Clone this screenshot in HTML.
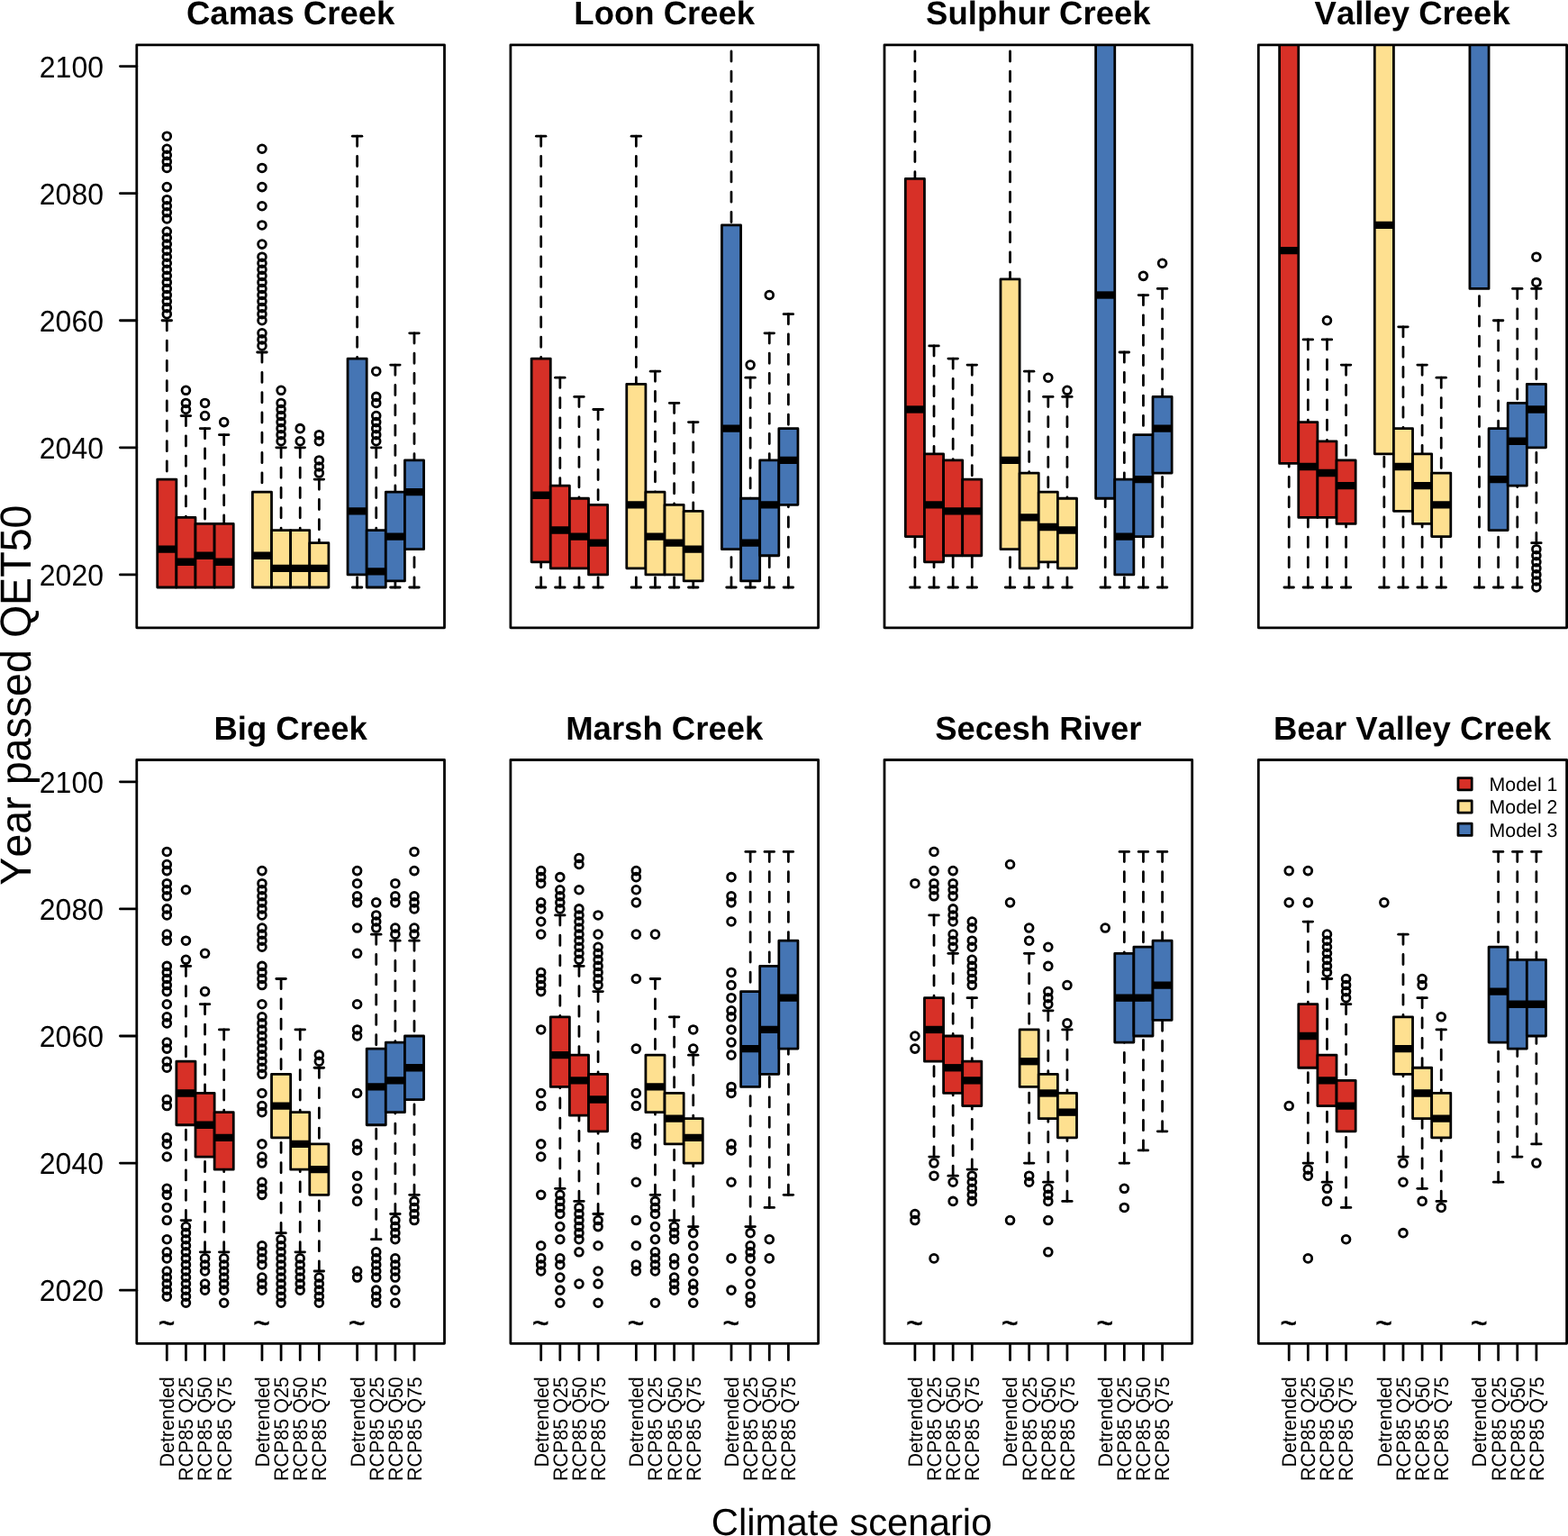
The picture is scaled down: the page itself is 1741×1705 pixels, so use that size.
<!DOCTYPE html>
<html lang="en"><head><meta charset="utf-8"><title>Year passed QET50 by climate scenario</title>
<style>html,body{margin:0;padding:0;background:#fff;overflow:hidden}svg{display:block}text{font-family:"Liberation Sans", Arial, Helvetica, sans-serif;fill:#000;font-kerning:none;font-feature-settings:"kern" 0,"liga" 0;text-rendering:geometricPrecision}.l{stroke:#000;stroke-width:2.78;stroke-linecap:round;fill:none}.w{stroke:#000;stroke-width:2.78;stroke-linecap:round;fill:none;stroke-dasharray:11.15 11.15}.m{stroke:#000;stroke-width:8.34;stroke-linecap:butt;fill:none}.b{stroke:#000;stroke-width:2.78;stroke-linejoin:round}.o{stroke:#000;stroke-width:2.78;fill:none}.t{font-size:36.5px;font-weight:bold;text-anchor:middle}.y{font-size:32px;text-anchor:end}.x{font-size:21.5px;text-anchor:end}.g{font-size:21.33px}.s{font-size:32.5px;text-anchor:middle;stroke:#000;stroke-width:0.5px}</style></head><body>
<svg width="1741" height="1705" viewBox="0 0 1741 1705" role="img" aria-label="Boxplots of year passed QET50 by climate scenario for eight creeks">
<rect width="1741" height="1705" fill="#fff"/>
<defs>
<clipPath id="c0"><rect x="151.8" y="49.8" width="341.7" height="647"/></clipPath>
<clipPath id="c1"><rect x="566.9" y="49.8" width="341.7" height="647"/></clipPath>
<clipPath id="c2"><rect x="982" y="49.8" width="341.7" height="647"/></clipPath>
<clipPath id="c3"><rect x="1397.3" y="49.8" width="342.3" height="647"/></clipPath>
<clipPath id="c4"><rect x="151.8" y="843.5" width="341.7" height="647.8"/></clipPath>
<clipPath id="c5"><rect x="566.9" y="843.5" width="341.7" height="647.8"/></clipPath>
<clipPath id="c6"><rect x="982" y="843.5" width="341.7" height="647.8"/></clipPath>
<clipPath id="c7"><rect x="1397.3" y="843.5" width="342.3" height="647.8"/></clipPath>
</defs>
<g>
<text class="t" x="322.65" y="27">Camas Creek</text>
<g clip-path="url(#c0)">
<path class="w" d="M185.3 355.74V532.09"/>
<path class="l" d="M180.02 355.74H190.58"/>
<rect class="b" fill="#D73027" x="174.74" y="532.09" width="21.13" height="119.92"/>
<path class="m" d="M174.74 609.68H195.87"/>
<circle class="o" cx="185.3" cy="348.69" r="4.4"/>
<circle class="o" cx="185.3" cy="341.63" r="4.4"/>
<circle class="o" cx="185.3" cy="334.58" r="4.4"/>
<circle class="o" cx="185.3" cy="327.52" r="4.4"/>
<circle class="o" cx="185.3" cy="320.47" r="4.4"/>
<circle class="o" cx="185.3" cy="313.42" r="4.4"/>
<circle class="o" cx="185.3" cy="306.36" r="4.4"/>
<circle class="o" cx="185.3" cy="299.31" r="4.4"/>
<circle class="o" cx="185.3" cy="292.25" r="4.4"/>
<circle class="o" cx="185.3" cy="285.2" r="4.4"/>
<circle class="o" cx="185.3" cy="278.15" r="4.4"/>
<circle class="o" cx="185.3" cy="271.09" r="4.4"/>
<circle class="o" cx="185.3" cy="264.04" r="4.4"/>
<circle class="o" cx="185.3" cy="256.98" r="4.4"/>
<circle class="o" cx="185.3" cy="242.88" r="4.4"/>
<circle class="o" cx="185.3" cy="235.82" r="4.4"/>
<circle class="o" cx="185.3" cy="228.77" r="4.4"/>
<circle class="o" cx="185.3" cy="221.71" r="4.4"/>
<circle class="o" cx="185.3" cy="207.61" r="4.4"/>
<circle class="o" cx="185.3" cy="186.44" r="4.4"/>
<circle class="o" cx="185.3" cy="179.39" r="4.4"/>
<circle class="o" cx="185.3" cy="172.34" r="4.4"/>
<circle class="o" cx="185.3" cy="165.28" r="4.4"/>
<circle class="o" cx="185.3" cy="151.17" r="4.4"/>
<path class="w" d="M206.43 461.55V574.41"/>
<path class="l" d="M201.15 461.55H211.71"/>
<rect class="b" fill="#D73027" x="195.87" y="574.41" width="21.13" height="77.59"/>
<path class="m" d="M195.87 623.79H217"/>
<circle class="o" cx="206.43" cy="454.5" r="4.4"/>
<circle class="o" cx="206.43" cy="447.44" r="4.4"/>
<circle class="o" cx="206.43" cy="433.33" r="4.4"/>
<path class="w" d="M227.56 475.66V581.47"/>
<path class="l" d="M222.28 475.66H232.84"/>
<rect class="b" fill="#D73027" x="217" y="581.47" width="21.13" height="70.54"/>
<path class="m" d="M217 616.74H238.12"/>
<circle class="o" cx="227.56" cy="461.55" r="4.4"/>
<circle class="o" cx="227.56" cy="447.44" r="4.4"/>
<path class="w" d="M248.69 482.71V581.47"/>
<path class="l" d="M243.41 482.71H253.97"/>
<rect class="b" fill="#D73027" x="238.12" y="581.47" width="21.13" height="70.54"/>
<path class="m" d="M238.12 623.79H259.25"/>
<circle class="o" cx="248.69" cy="468.6" r="4.4"/>
<path class="w" d="M290.95 391.01V546.2"/>
<path class="l" d="M285.67 391.01H296.23"/>
<rect class="b" fill="#FEE090" x="280.38" y="546.2" width="21.13" height="105.81"/>
<path class="m" d="M280.38 616.74H301.51"/>
<circle class="o" cx="290.95" cy="383.96" r="4.4"/>
<circle class="o" cx="290.95" cy="376.9" r="4.4"/>
<circle class="o" cx="290.95" cy="369.85" r="4.4"/>
<circle class="o" cx="290.95" cy="355.74" r="4.4"/>
<circle class="o" cx="290.95" cy="348.69" r="4.4"/>
<circle class="o" cx="290.95" cy="341.63" r="4.4"/>
<circle class="o" cx="290.95" cy="334.58" r="4.4"/>
<circle class="o" cx="290.95" cy="327.52" r="4.4"/>
<circle class="o" cx="290.95" cy="320.47" r="4.4"/>
<circle class="o" cx="290.95" cy="313.42" r="4.4"/>
<circle class="o" cx="290.95" cy="306.36" r="4.4"/>
<circle class="o" cx="290.95" cy="299.31" r="4.4"/>
<circle class="o" cx="290.95" cy="292.25" r="4.4"/>
<circle class="o" cx="290.95" cy="285.2" r="4.4"/>
<circle class="o" cx="290.95" cy="271.09" r="4.4"/>
<circle class="o" cx="290.95" cy="249.93" r="4.4"/>
<circle class="o" cx="290.95" cy="228.77" r="4.4"/>
<circle class="o" cx="290.95" cy="207.61" r="4.4"/>
<circle class="o" cx="290.95" cy="186.44" r="4.4"/>
<circle class="o" cx="290.95" cy="165.28" r="4.4"/>
<path class="w" d="M312.08 496.82V588.52"/>
<path class="l" d="M306.8 496.82H317.36"/>
<rect class="b" fill="#FEE090" x="301.52" y="588.52" width="21.13" height="63.49"/>
<path class="m" d="M301.52 630.85H322.65"/>
<circle class="o" cx="312.08" cy="489.77" r="4.4"/>
<circle class="o" cx="312.08" cy="482.71" r="4.4"/>
<circle class="o" cx="312.08" cy="475.66" r="4.4"/>
<circle class="o" cx="312.08" cy="468.6" r="4.4"/>
<circle class="o" cx="312.08" cy="461.55" r="4.4"/>
<circle class="o" cx="312.08" cy="454.5" r="4.4"/>
<circle class="o" cx="312.08" cy="447.44" r="4.4"/>
<circle class="o" cx="312.08" cy="433.33" r="4.4"/>
<path class="w" d="M333.21 496.82V588.52"/>
<path class="l" d="M327.93 496.82H338.49"/>
<rect class="b" fill="#FEE090" x="322.65" y="588.52" width="21.13" height="63.49"/>
<path class="m" d="M322.65 630.85H343.78"/>
<circle class="o" cx="333.21" cy="489.77" r="4.4"/>
<circle class="o" cx="333.21" cy="475.66" r="4.4"/>
<path class="w" d="M354.34 532.09V602.63"/>
<path class="l" d="M349.06 532.09H359.62"/>
<rect class="b" fill="#FEE090" x="343.78" y="602.63" width="21.13" height="49.38"/>
<path class="m" d="M343.78 630.85H364.91"/>
<circle class="o" cx="354.34" cy="525.04" r="4.4"/>
<circle class="o" cx="354.34" cy="517.98" r="4.4"/>
<circle class="o" cx="354.34" cy="510.93" r="4.4"/>
<circle class="o" cx="354.34" cy="489.77" r="4.4"/>
<circle class="o" cx="354.34" cy="482.71" r="4.4"/>
<path class="w" d="M396.6 151.17V398.06"/>
<path class="l" d="M391.32 151.17H401.88"/>
<path class="w" d="M396.6 652.01V637.9"/>
<path class="l" d="M391.32 652.01H401.88"/>
<rect class="b" fill="#4575B4" x="386.04" y="398.06" width="21.13" height="239.84"/>
<path class="m" d="M386.04 567.36H407.17"/>
<path class="w" d="M417.73 496.82V588.52"/>
<path class="l" d="M412.45 496.82H423.01"/>
<rect class="b" fill="#4575B4" x="407.17" y="588.52" width="21.13" height="63.49"/>
<path class="m" d="M407.17 634.37H428.3"/>
<circle class="o" cx="417.73" cy="489.77" r="4.4"/>
<circle class="o" cx="417.73" cy="482.71" r="4.4"/>
<circle class="o" cx="417.73" cy="475.66" r="4.4"/>
<circle class="o" cx="417.73" cy="468.6" r="4.4"/>
<circle class="o" cx="417.73" cy="461.55" r="4.4"/>
<circle class="o" cx="417.73" cy="447.44" r="4.4"/>
<circle class="o" cx="417.73" cy="440.39" r="4.4"/>
<circle class="o" cx="417.73" cy="412.17" r="4.4"/>
<path class="w" d="M438.86 405.12V546.2"/>
<path class="l" d="M433.58 405.12H444.14"/>
<path class="w" d="M438.86 652.01V644.95"/>
<path class="l" d="M433.58 652.01H444.14"/>
<rect class="b" fill="#4575B4" x="428.3" y="546.2" width="21.13" height="98.76"/>
<path class="m" d="M428.3 595.58H449.43"/>
<path class="w" d="M459.99 369.85V510.93"/>
<path class="l" d="M454.71 369.85H465.27"/>
<path class="w" d="M459.99 652.01V609.68"/>
<path class="l" d="M454.71 652.01H465.27"/>
<rect class="b" fill="#4575B4" x="449.43" y="510.93" width="21.13" height="98.76"/>
<path class="m" d="M449.43 546.2H470.56"/>
</g>
<rect class="l" stroke-linejoin="round" x="151.8" y="49.8" width="341.7" height="647"/>
<path class="l" d="M151.8 637.9H133.4"/>
<text class="y" transform="translate(115 650) scale(1 1.04)">2020</text>
<path class="l" d="M151.8 496.82H133.4"/>
<text class="y" transform="translate(115 508.92) scale(1 1.04)">2040</text>
<path class="l" d="M151.8 355.74H133.4"/>
<text class="y" transform="translate(115 367.84) scale(1 1.04)">2060</text>
<path class="l" d="M151.8 214.66H133.4"/>
<text class="y" transform="translate(115 226.76) scale(1 1.04)">2080</text>
<path class="l" d="M151.8 73.58H133.4"/>
<text class="y" transform="translate(115 85.68) scale(1 1.04)">2100</text>
</g>
<g>
<text class="t" x="737.75" y="27">Loon Creek</text>
<g clip-path="url(#c1)">
<path class="w" d="M600.7 151.17V398.06"/>
<path class="l" d="M595.42 151.17H605.98"/>
<path class="w" d="M600.7 652.01V623.79"/>
<path class="l" d="M595.42 652.01H605.98"/>
<rect class="b" fill="#D73027" x="590.13" y="398.06" width="21.13" height="225.73"/>
<path class="m" d="M590.13 549.73H611.26"/>
<path class="w" d="M621.83 419.23V539.14"/>
<path class="l" d="M616.55 419.23H627.11"/>
<path class="w" d="M621.83 652.01V630.85"/>
<path class="l" d="M616.55 652.01H627.11"/>
<rect class="b" fill="#D73027" x="611.26" y="539.14" width="21.13" height="91.7"/>
<path class="m" d="M611.26 588.52H632.39"/>
<path class="w" d="M642.96 440.39V553.25"/>
<path class="l" d="M637.68 440.39H648.24"/>
<path class="w" d="M642.96 652.01V630.85"/>
<path class="l" d="M637.68 652.01H648.24"/>
<rect class="b" fill="#D73027" x="632.39" y="553.25" width="21.13" height="77.59"/>
<path class="m" d="M632.39 595.58H653.52"/>
<path class="w" d="M664.09 454.5V560.31"/>
<path class="l" d="M658.81 454.5H669.37"/>
<path class="w" d="M664.09 652.01V637.9"/>
<path class="l" d="M658.81 652.01H669.37"/>
<rect class="b" fill="#D73027" x="653.52" y="560.31" width="21.13" height="77.59"/>
<path class="m" d="M653.52 602.63H674.65"/>
<path class="w" d="M706.35 151.17V426.28"/>
<path class="l" d="M701.07 151.17H711.63"/>
<path class="w" d="M706.35 652.01V630.85"/>
<path class="l" d="M701.07 652.01H711.63"/>
<rect class="b" fill="#FEE090" x="695.78" y="426.28" width="21.13" height="204.57"/>
<path class="m" d="M695.78 560.31H716.91"/>
<path class="w" d="M727.48 412.17V546.2"/>
<path class="l" d="M722.2 412.17H732.76"/>
<path class="w" d="M727.48 652.01V637.9"/>
<path class="l" d="M722.2 652.01H732.76"/>
<rect class="b" fill="#FEE090" x="716.91" y="546.2" width="21.13" height="91.7"/>
<path class="m" d="M716.91 595.58H738.04"/>
<path class="w" d="M748.61 447.44V560.31"/>
<path class="l" d="M743.33 447.44H753.89"/>
<path class="w" d="M748.61 652.01V637.9"/>
<path class="l" d="M743.33 652.01H753.89"/>
<rect class="b" fill="#FEE090" x="738.04" y="560.31" width="21.13" height="77.59"/>
<path class="m" d="M738.04 602.63H759.17"/>
<path class="w" d="M769.74 468.6V567.36"/>
<path class="l" d="M764.46 468.6H775.02"/>
<path class="w" d="M769.74 652.01V644.95"/>
<path class="l" d="M764.46 652.01H775.02"/>
<rect class="b" fill="#FEE090" x="759.17" y="567.36" width="21.13" height="77.59"/>
<path class="m" d="M759.17 609.68H780.3"/>
<path class="w" d="M812 34.64V249.93"/>
<path class="l" d="M806.72 34.64H817.28"/>
<path class="w" d="M812 652.01V609.68"/>
<path class="l" d="M806.72 652.01H817.28"/>
<rect class="b" fill="#4575B4" x="801.43" y="249.93" width="21.13" height="359.75"/>
<path class="m" d="M801.43 475.66H822.56"/>
<path class="w" d="M833.13 419.23V553.25"/>
<path class="l" d="M827.85 419.23H838.41"/>
<path class="w" d="M833.13 652.01V644.95"/>
<path class="l" d="M827.85 652.01H838.41"/>
<rect class="b" fill="#4575B4" x="822.56" y="553.25" width="21.13" height="91.7"/>
<path class="m" d="M822.56 602.63H843.69"/>
<circle class="o" cx="833.13" cy="405.12" r="4.4"/>
<path class="w" d="M854.26 369.85V510.93"/>
<path class="l" d="M848.98 369.85H859.54"/>
<path class="w" d="M854.26 652.01V616.74"/>
<path class="l" d="M848.98 652.01H859.54"/>
<rect class="b" fill="#4575B4" x="843.69" y="510.93" width="21.13" height="105.81"/>
<path class="m" d="M843.69 560.31H864.83"/>
<circle class="o" cx="854.26" cy="327.52" r="4.4"/>
<path class="w" d="M875.39 348.69V475.66"/>
<path class="l" d="M870.11 348.69H880.67"/>
<path class="w" d="M875.39 652.01V560.31"/>
<path class="l" d="M870.11 652.01H880.67"/>
<rect class="b" fill="#4575B4" x="864.82" y="475.66" width="21.13" height="84.65"/>
<path class="m" d="M864.82 510.93H885.95"/>
</g>
<rect class="l" stroke-linejoin="round" x="566.9" y="49.8" width="341.7" height="647"/>
</g>
<g>
<text class="t" x="1152.85" y="27">Sulphur Creek</text>
<g clip-path="url(#c2)">
<path class="w" d="M1015.9 34.64V198.44"/>
<path class="l" d="M1010.62 34.64H1021.18"/>
<path class="w" d="M1015.9 652.01V595.58"/>
<path class="l" d="M1010.62 652.01H1021.18"/>
<rect class="b" fill="#D73027" x="1005.33" y="198.44" width="21.13" height="397.14"/>
<path class="m" d="M1005.33 454.5H1026.46"/>
<path class="w" d="M1037.03 383.96V503.87"/>
<path class="l" d="M1031.75 383.96H1042.31"/>
<path class="w" d="M1037.03 652.01V623.79"/>
<path class="l" d="M1031.75 652.01H1042.31"/>
<rect class="b" fill="#D73027" x="1026.46" y="503.87" width="21.13" height="119.92"/>
<path class="m" d="M1026.46 560.31H1047.6"/>
<path class="w" d="M1058.16 398.06V510.93"/>
<path class="l" d="M1052.88 398.06H1063.44"/>
<path class="w" d="M1058.16 652.01V616.74"/>
<path class="l" d="M1052.88 652.01H1063.44"/>
<rect class="b" fill="#D73027" x="1047.6" y="510.93" width="21.13" height="105.81"/>
<path class="m" d="M1047.6 567.36H1068.73"/>
<path class="w" d="M1079.29 405.12V532.09"/>
<path class="l" d="M1074.01 405.12H1084.57"/>
<path class="w" d="M1079.29 652.01V616.74"/>
<path class="l" d="M1074.01 652.01H1084.57"/>
<rect class="b" fill="#D73027" x="1068.72" y="532.09" width="21.13" height="84.65"/>
<path class="m" d="M1068.72 567.36H1089.86"/>
<path class="w" d="M1121.55 34.64V309.89"/>
<path class="l" d="M1116.27 34.64H1126.83"/>
<path class="w" d="M1121.55 652.01V609.68"/>
<path class="l" d="M1116.27 652.01H1126.83"/>
<rect class="b" fill="#FEE090" x="1110.98" y="309.89" width="21.13" height="299.8"/>
<path class="m" d="M1110.98 510.93H1132.12"/>
<path class="w" d="M1142.68 412.17V525.04"/>
<path class="l" d="M1137.4 412.17H1147.96"/>
<path class="w" d="M1142.68 652.01V630.85"/>
<path class="l" d="M1137.4 652.01H1147.96"/>
<rect class="b" fill="#FEE090" x="1132.12" y="525.04" width="21.13" height="105.81"/>
<path class="m" d="M1132.12 574.41H1153.25"/>
<path class="w" d="M1163.81 440.39V546.2"/>
<path class="l" d="M1158.53 440.39H1169.09"/>
<path class="w" d="M1163.81 652.01V623.79"/>
<path class="l" d="M1158.53 652.01H1169.09"/>
<rect class="b" fill="#FEE090" x="1153.24" y="546.2" width="21.13" height="77.59"/>
<path class="m" d="M1153.24 585H1174.38"/>
<circle class="o" cx="1163.81" cy="419.23" r="4.4"/>
<path class="w" d="M1184.94 440.39V553.25"/>
<path class="l" d="M1179.66 440.39H1190.22"/>
<path class="w" d="M1184.94 652.01V630.85"/>
<path class="l" d="M1179.66 652.01H1190.22"/>
<rect class="b" fill="#FEE090" x="1174.38" y="553.25" width="21.13" height="77.59"/>
<path class="m" d="M1174.38 588.52H1195.51"/>
<circle class="o" cx="1184.94" cy="433.33" r="4.4"/>
<path class="w" d="M1227.2 652.01V553.25"/>
<path class="l" d="M1221.92 652.01H1232.48"/>
<rect class="b" fill="#4575B4" x="1216.63" y="-11.07" width="21.13" height="564.32"/>
<path class="m" d="M1216.63 327.52H1237.77"/>
<path class="w" d="M1248.33 391.01V532.09"/>
<path class="l" d="M1243.05 391.01H1253.61"/>
<path class="w" d="M1248.33 652.01V637.9"/>
<path class="l" d="M1243.05 652.01H1253.61"/>
<rect class="b" fill="#4575B4" x="1237.76" y="532.09" width="21.13" height="105.81"/>
<path class="m" d="M1237.76 595.58H1258.89"/>
<path class="w" d="M1269.46 327.52V482.71"/>
<path class="l" d="M1264.18 327.52H1274.74"/>
<path class="w" d="M1269.46 652.01V595.58"/>
<path class="l" d="M1264.18 652.01H1274.74"/>
<rect class="b" fill="#4575B4" x="1258.89" y="482.71" width="21.13" height="112.86"/>
<path class="m" d="M1258.89 532.09H1280.03"/>
<circle class="o" cx="1269.46" cy="306.36" r="4.4"/>
<path class="w" d="M1290.59 320.47V440.39"/>
<path class="l" d="M1285.31 320.47H1295.87"/>
<path class="w" d="M1290.59 652.01V525.04"/>
<path class="l" d="M1285.31 652.01H1295.87"/>
<rect class="b" fill="#4575B4" x="1280.02" y="440.39" width="21.13" height="84.65"/>
<path class="m" d="M1280.02 475.66H1301.15"/>
<circle class="o" cx="1290.59" cy="292.25" r="4.4"/>
</g>
<rect class="l" stroke-linejoin="round" x="982" y="49.8" width="341.7" height="647"/>
</g>
<g>
<text class="t" x="1568.15" y="27">Valley Creek</text>
<g clip-path="url(#c3)">
<path class="w" d="M1431.2 652.01V514.45"/>
<path class="l" d="M1425.92 652.01H1436.48"/>
<rect class="b" fill="#D73027" x="1420.63" y="-11.07" width="21.13" height="525.52"/>
<path class="m" d="M1420.63 278.15H1441.77"/>
<path class="w" d="M1452.33 376.9V468.6"/>
<path class="l" d="M1447.05 376.9H1457.61"/>
<path class="w" d="M1452.33 652.01V574.41"/>
<path class="l" d="M1447.05 652.01H1457.61"/>
<rect class="b" fill="#D73027" x="1441.77" y="468.6" width="21.13" height="105.81"/>
<path class="m" d="M1441.77 517.98H1462.9"/>
<path class="w" d="M1473.46 376.9V489.77"/>
<path class="l" d="M1468.18 376.9H1478.74"/>
<path class="w" d="M1473.46 652.01V574.41"/>
<path class="l" d="M1468.18 652.01H1478.74"/>
<rect class="b" fill="#D73027" x="1462.89" y="489.77" width="21.13" height="84.65"/>
<path class="m" d="M1462.89 525.04H1484.03"/>
<circle class="o" cx="1473.46" cy="355.74" r="4.4"/>
<path class="w" d="M1494.59 405.12V510.93"/>
<path class="l" d="M1489.31 405.12H1499.87"/>
<path class="w" d="M1494.59 652.01V581.47"/>
<path class="l" d="M1489.31 652.01H1499.87"/>
<rect class="b" fill="#D73027" x="1484.03" y="510.93" width="21.13" height="70.54"/>
<path class="m" d="M1484.03 539.14H1505.16"/>
<path class="w" d="M1536.85 652.01V503.87"/>
<path class="l" d="M1531.57 652.01H1542.13"/>
<rect class="b" fill="#FEE090" x="1526.29" y="-11.07" width="21.13" height="514.94"/>
<path class="m" d="M1526.29 249.93H1547.42"/>
<path class="w" d="M1557.98 362.79V475.66"/>
<path class="l" d="M1552.7 362.79H1563.26"/>
<path class="w" d="M1557.98 652.01V567.36"/>
<path class="l" d="M1552.7 652.01H1563.26"/>
<rect class="b" fill="#FEE090" x="1547.41" y="475.66" width="21.13" height="91.7"/>
<path class="m" d="M1547.41 517.98H1568.55"/>
<path class="w" d="M1579.11 405.12V503.87"/>
<path class="l" d="M1573.83 405.12H1584.39"/>
<path class="w" d="M1579.11 652.01V581.47"/>
<path class="l" d="M1573.83 652.01H1584.39"/>
<rect class="b" fill="#FEE090" x="1568.55" y="503.87" width="21.13" height="77.59"/>
<path class="m" d="M1568.55 539.14H1589.68"/>
<path class="w" d="M1600.24 419.23V525.04"/>
<path class="l" d="M1594.96 419.23H1605.52"/>
<path class="w" d="M1600.24 652.01V595.58"/>
<path class="l" d="M1594.96 652.01H1605.52"/>
<rect class="b" fill="#FEE090" x="1589.67" y="525.04" width="21.13" height="70.54"/>
<path class="m" d="M1589.67 560.31H1610.81"/>
<path class="w" d="M1642.5 652.01V320.47"/>
<path class="l" d="M1637.22 652.01H1647.78"/>
<rect class="b" fill="#4575B4" x="1631.93" y="-11.07" width="21.13" height="331.54"/>
<path class="w" d="M1663.63 355.74V475.66"/>
<path class="l" d="M1658.35 355.74H1668.91"/>
<path class="w" d="M1663.63 652.01V588.52"/>
<path class="l" d="M1658.35 652.01H1668.91"/>
<rect class="b" fill="#4575B4" x="1653.07" y="475.66" width="21.13" height="112.86"/>
<path class="m" d="M1653.07 532.09H1674.2"/>
<path class="w" d="M1684.76 320.47V447.44"/>
<path class="l" d="M1679.48 320.47H1690.04"/>
<path class="w" d="M1684.76 652.01V539.14"/>
<path class="l" d="M1679.48 652.01H1690.04"/>
<rect class="b" fill="#4575B4" x="1674.19" y="447.44" width="21.13" height="91.7"/>
<path class="m" d="M1674.19 489.77H1695.33"/>
<path class="w" d="M1705.89 320.47V426.28"/>
<path class="l" d="M1700.61 320.47H1711.17"/>
<path class="w" d="M1705.89 602.63V496.82"/>
<path class="l" d="M1700.61 602.63H1711.17"/>
<rect class="b" fill="#4575B4" x="1695.33" y="426.28" width="21.13" height="70.54"/>
<path class="m" d="M1695.33 454.5H1716.46"/>
<circle class="o" cx="1705.89" cy="652.01" r="4.4"/>
<circle class="o" cx="1705.89" cy="644.95" r="4.4"/>
<circle class="o" cx="1705.89" cy="637.9" r="4.4"/>
<circle class="o" cx="1705.89" cy="630.85" r="4.4"/>
<circle class="o" cx="1705.89" cy="623.79" r="4.4"/>
<circle class="o" cx="1705.89" cy="616.74" r="4.4"/>
<circle class="o" cx="1705.89" cy="609.68" r="4.4"/>
<circle class="o" cx="1705.89" cy="313.42" r="4.4"/>
<circle class="o" cx="1705.89" cy="285.2" r="4.4"/>
</g>
<rect class="l" stroke-linejoin="round" x="1397.3" y="49.8" width="342.3" height="647"/>
</g>
<g>
<text class="t" x="322.65" y="820.7">Big Creek</text>
<g clip-path="url(#c4)">
<text class="s" transform="translate(185 1481.02) scale(0.98 1.15)">~</text>
<circle class="o" cx="185.3" cy="1439.2" r="4.4"/>
<circle class="o" cx="185.3" cy="1432.15" r="4.4"/>
<circle class="o" cx="185.3" cy="1425.1" r="4.4"/>
<circle class="o" cx="185.3" cy="1418.04" r="4.4"/>
<circle class="o" cx="185.3" cy="1410.99" r="4.4"/>
<circle class="o" cx="185.3" cy="1396.88" r="4.4"/>
<circle class="o" cx="185.3" cy="1389.83" r="4.4"/>
<circle class="o" cx="185.3" cy="1375.72" r="4.4"/>
<circle class="o" cx="185.3" cy="1354.56" r="4.4"/>
<circle class="o" cx="185.3" cy="1340.45" r="4.4"/>
<circle class="o" cx="185.3" cy="1326.34" r="4.4"/>
<circle class="o" cx="185.3" cy="1319.29" r="4.4"/>
<circle class="o" cx="185.3" cy="1284.02" r="4.4"/>
<circle class="o" cx="185.3" cy="1269.91" r="4.4"/>
<circle class="o" cx="185.3" cy="1262.85" r="4.4"/>
<circle class="o" cx="185.3" cy="1227.58" r="4.4"/>
<circle class="o" cx="185.3" cy="1220.53" r="4.4"/>
<circle class="o" cx="185.3" cy="1185.26" r="4.4"/>
<circle class="o" cx="185.3" cy="1178.21" r="4.4"/>
<circle class="o" cx="185.3" cy="1164.1" r="4.4"/>
<circle class="o" cx="185.3" cy="1157.04" r="4.4"/>
<circle class="o" cx="185.3" cy="1135.88" r="4.4"/>
<circle class="o" cx="185.3" cy="1128.83" r="4.4"/>
<circle class="o" cx="185.3" cy="1114.72" r="4.4"/>
<circle class="o" cx="185.3" cy="1100.61" r="4.4"/>
<circle class="o" cx="185.3" cy="1093.56" r="4.4"/>
<circle class="o" cx="185.3" cy="1086.5" r="4.4"/>
<circle class="o" cx="185.3" cy="1079.45" r="4.4"/>
<circle class="o" cx="185.3" cy="1072.4" r="4.4"/>
<circle class="o" cx="185.3" cy="1044.18" r="4.4"/>
<circle class="o" cx="185.3" cy="1037.13" r="4.4"/>
<circle class="o" cx="185.3" cy="1015.96" r="4.4"/>
<circle class="o" cx="185.3" cy="1008.91" r="4.4"/>
<circle class="o" cx="185.3" cy="994.8" r="4.4"/>
<circle class="o" cx="185.3" cy="987.75" r="4.4"/>
<circle class="o" cx="185.3" cy="980.69" r="4.4"/>
<circle class="o" cx="185.3" cy="966.59" r="4.4"/>
<circle class="o" cx="185.3" cy="959.53" r="4.4"/>
<circle class="o" cx="185.3" cy="945.42" r="4.4"/>
<path class="w" d="M206.43 1072.4V1178.21"/>
<path class="l" d="M201.15 1072.4H211.71"/>
<path class="w" d="M206.43 1354.56V1248.75"/>
<path class="l" d="M201.15 1354.56H211.71"/>
<rect class="b" fill="#D73027" x="195.87" y="1178.21" width="21.13" height="70.54"/>
<path class="m" d="M195.87 1213.48H217"/>
<circle class="o" cx="206.43" cy="1446.26" r="4.4"/>
<circle class="o" cx="206.43" cy="1439.2" r="4.4"/>
<circle class="o" cx="206.43" cy="1432.15" r="4.4"/>
<circle class="o" cx="206.43" cy="1425.1" r="4.4"/>
<circle class="o" cx="206.43" cy="1418.04" r="4.4"/>
<circle class="o" cx="206.43" cy="1410.99" r="4.4"/>
<circle class="o" cx="206.43" cy="1403.93" r="4.4"/>
<circle class="o" cx="206.43" cy="1396.88" r="4.4"/>
<circle class="o" cx="206.43" cy="1389.83" r="4.4"/>
<circle class="o" cx="206.43" cy="1382.77" r="4.4"/>
<circle class="o" cx="206.43" cy="1375.72" r="4.4"/>
<circle class="o" cx="206.43" cy="1368.66" r="4.4"/>
<circle class="o" cx="206.43" cy="1361.61" r="4.4"/>
<circle class="o" cx="206.43" cy="1065.34" r="4.4"/>
<circle class="o" cx="206.43" cy="1044.18" r="4.4"/>
<circle class="o" cx="206.43" cy="987.75" r="4.4"/>
<path class="w" d="M227.56 1114.72V1213.48"/>
<path class="l" d="M222.28 1114.72H232.84"/>
<path class="w" d="M227.56 1389.83V1284.02"/>
<path class="l" d="M222.28 1389.83H232.84"/>
<rect class="b" fill="#D73027" x="217" y="1213.48" width="21.13" height="70.54"/>
<path class="m" d="M217 1248.75H238.12"/>
<circle class="o" cx="227.56" cy="1432.15" r="4.4"/>
<circle class="o" cx="227.56" cy="1425.1" r="4.4"/>
<circle class="o" cx="227.56" cy="1410.99" r="4.4"/>
<circle class="o" cx="227.56" cy="1403.93" r="4.4"/>
<circle class="o" cx="227.56" cy="1396.88" r="4.4"/>
<circle class="o" cx="227.56" cy="1100.61" r="4.4"/>
<circle class="o" cx="227.56" cy="1058.29" r="4.4"/>
<path class="w" d="M248.69 1142.94V1234.64"/>
<path class="l" d="M243.41 1142.94H253.97"/>
<path class="w" d="M248.69 1389.83V1298.12"/>
<path class="l" d="M243.41 1389.83H253.97"/>
<rect class="b" fill="#D73027" x="238.12" y="1234.64" width="21.13" height="63.49"/>
<path class="m" d="M238.12 1262.85H259.25"/>
<circle class="o" cx="248.69" cy="1446.26" r="4.4"/>
<circle class="o" cx="248.69" cy="1432.15" r="4.4"/>
<circle class="o" cx="248.69" cy="1425.1" r="4.4"/>
<circle class="o" cx="248.69" cy="1418.04" r="4.4"/>
<circle class="o" cx="248.69" cy="1410.99" r="4.4"/>
<circle class="o" cx="248.69" cy="1403.93" r="4.4"/>
<circle class="o" cx="248.69" cy="1396.88" r="4.4"/>
<text class="s" transform="translate(290.65 1481.02) scale(0.98 1.15)">~</text>
<circle class="o" cx="290.95" cy="1432.15" r="4.4"/>
<circle class="o" cx="290.95" cy="1425.1" r="4.4"/>
<circle class="o" cx="290.95" cy="1418.04" r="4.4"/>
<circle class="o" cx="290.95" cy="1403.93" r="4.4"/>
<circle class="o" cx="290.95" cy="1396.88" r="4.4"/>
<circle class="o" cx="290.95" cy="1389.83" r="4.4"/>
<circle class="o" cx="290.95" cy="1382.77" r="4.4"/>
<circle class="o" cx="290.95" cy="1326.34" r="4.4"/>
<circle class="o" cx="290.95" cy="1319.29" r="4.4"/>
<circle class="o" cx="290.95" cy="1312.23" r="4.4"/>
<circle class="o" cx="290.95" cy="1291.07" r="4.4"/>
<circle class="o" cx="290.95" cy="1284.02" r="4.4"/>
<circle class="o" cx="290.95" cy="1269.91" r="4.4"/>
<circle class="o" cx="290.95" cy="1234.64" r="4.4"/>
<circle class="o" cx="290.95" cy="1227.58" r="4.4"/>
<circle class="o" cx="290.95" cy="1213.48" r="4.4"/>
<circle class="o" cx="290.95" cy="1192.31" r="4.4"/>
<circle class="o" cx="290.95" cy="1185.26" r="4.4"/>
<circle class="o" cx="290.95" cy="1178.21" r="4.4"/>
<circle class="o" cx="290.95" cy="1171.15" r="4.4"/>
<circle class="o" cx="290.95" cy="1164.1" r="4.4"/>
<circle class="o" cx="290.95" cy="1157.04" r="4.4"/>
<circle class="o" cx="290.95" cy="1149.99" r="4.4"/>
<circle class="o" cx="290.95" cy="1142.94" r="4.4"/>
<circle class="o" cx="290.95" cy="1135.88" r="4.4"/>
<circle class="o" cx="290.95" cy="1128.83" r="4.4"/>
<circle class="o" cx="290.95" cy="1114.72" r="4.4"/>
<circle class="o" cx="290.95" cy="1093.56" r="4.4"/>
<circle class="o" cx="290.95" cy="1086.5" r="4.4"/>
<circle class="o" cx="290.95" cy="1079.45" r="4.4"/>
<circle class="o" cx="290.95" cy="1072.4" r="4.4"/>
<circle class="o" cx="290.95" cy="1051.23" r="4.4"/>
<circle class="o" cx="290.95" cy="1044.18" r="4.4"/>
<circle class="o" cx="290.95" cy="1037.13" r="4.4"/>
<circle class="o" cx="290.95" cy="1030.07" r="4.4"/>
<circle class="o" cx="290.95" cy="1015.96" r="4.4"/>
<circle class="o" cx="290.95" cy="1008.91" r="4.4"/>
<circle class="o" cx="290.95" cy="1001.86" r="4.4"/>
<circle class="o" cx="290.95" cy="994.8" r="4.4"/>
<circle class="o" cx="290.95" cy="987.75" r="4.4"/>
<circle class="o" cx="290.95" cy="980.69" r="4.4"/>
<circle class="o" cx="290.95" cy="966.59" r="4.4"/>
<path class="w" d="M312.08 1086.5V1192.31"/>
<path class="l" d="M306.8 1086.5H317.36"/>
<path class="w" d="M312.08 1368.66V1262.85"/>
<path class="l" d="M306.8 1368.66H317.36"/>
<rect class="b" fill="#FEE090" x="301.52" y="1192.31" width="21.13" height="70.54"/>
<path class="m" d="M301.52 1227.58H322.65"/>
<circle class="o" cx="312.08" cy="1446.26" r="4.4"/>
<circle class="o" cx="312.08" cy="1439.2" r="4.4"/>
<circle class="o" cx="312.08" cy="1432.15" r="4.4"/>
<circle class="o" cx="312.08" cy="1425.1" r="4.4"/>
<circle class="o" cx="312.08" cy="1418.04" r="4.4"/>
<circle class="o" cx="312.08" cy="1410.99" r="4.4"/>
<circle class="o" cx="312.08" cy="1403.93" r="4.4"/>
<circle class="o" cx="312.08" cy="1396.88" r="4.4"/>
<circle class="o" cx="312.08" cy="1389.83" r="4.4"/>
<circle class="o" cx="312.08" cy="1382.77" r="4.4"/>
<circle class="o" cx="312.08" cy="1375.72" r="4.4"/>
<path class="w" d="M333.21 1142.94V1234.64"/>
<path class="l" d="M327.93 1142.94H338.49"/>
<path class="w" d="M333.21 1389.83V1298.12"/>
<path class="l" d="M327.93 1389.83H338.49"/>
<rect class="b" fill="#FEE090" x="322.65" y="1234.64" width="21.13" height="63.49"/>
<path class="m" d="M322.65 1269.91H343.78"/>
<circle class="o" cx="333.21" cy="1432.15" r="4.4"/>
<circle class="o" cx="333.21" cy="1425.1" r="4.4"/>
<circle class="o" cx="333.21" cy="1418.04" r="4.4"/>
<circle class="o" cx="333.21" cy="1410.99" r="4.4"/>
<circle class="o" cx="333.21" cy="1403.93" r="4.4"/>
<circle class="o" cx="333.21" cy="1396.88" r="4.4"/>
<path class="w" d="M354.34 1185.26V1269.91"/>
<path class="l" d="M349.06 1185.26H359.62"/>
<path class="w" d="M354.34 1410.99V1326.34"/>
<path class="l" d="M349.06 1410.99H359.62"/>
<rect class="b" fill="#FEE090" x="343.78" y="1269.91" width="21.13" height="56.43"/>
<path class="m" d="M343.78 1298.12H364.91"/>
<circle class="o" cx="354.34" cy="1446.26" r="4.4"/>
<circle class="o" cx="354.34" cy="1439.2" r="4.4"/>
<circle class="o" cx="354.34" cy="1432.15" r="4.4"/>
<circle class="o" cx="354.34" cy="1425.1" r="4.4"/>
<circle class="o" cx="354.34" cy="1418.04" r="4.4"/>
<circle class="o" cx="354.34" cy="1178.21" r="4.4"/>
<circle class="o" cx="354.34" cy="1171.15" r="4.4"/>
<text class="s" transform="translate(396.3 1481.02) scale(0.98 1.15)">~</text>
<circle class="o" cx="396.6" cy="1418.04" r="4.4"/>
<circle class="o" cx="396.6" cy="1410.99" r="4.4"/>
<circle class="o" cx="396.6" cy="1333.39" r="4.4"/>
<circle class="o" cx="396.6" cy="1319.29" r="4.4"/>
<circle class="o" cx="396.6" cy="1305.18" r="4.4"/>
<circle class="o" cx="396.6" cy="1276.96" r="4.4"/>
<circle class="o" cx="396.6" cy="1269.91" r="4.4"/>
<circle class="o" cx="396.6" cy="1213.48" r="4.4"/>
<circle class="o" cx="396.6" cy="1149.99" r="4.4"/>
<circle class="o" cx="396.6" cy="1142.94" r="4.4"/>
<circle class="o" cx="396.6" cy="1114.72" r="4.4"/>
<circle class="o" cx="396.6" cy="1058.29" r="4.4"/>
<circle class="o" cx="396.6" cy="1030.07" r="4.4"/>
<circle class="o" cx="396.6" cy="1001.86" r="4.4"/>
<circle class="o" cx="396.6" cy="994.8" r="4.4"/>
<circle class="o" cx="396.6" cy="980.69" r="4.4"/>
<circle class="o" cx="396.6" cy="966.59" r="4.4"/>
<path class="w" d="M417.73 1037.13V1164.1"/>
<path class="l" d="M412.45 1037.13H423.01"/>
<path class="w" d="M417.73 1375.72V1248.75"/>
<path class="l" d="M412.45 1375.72H423.01"/>
<rect class="b" fill="#4575B4" x="407.17" y="1164.1" width="21.13" height="84.65"/>
<path class="m" d="M407.17 1206.42H428.3"/>
<circle class="o" cx="417.73" cy="1446.26" r="4.4"/>
<circle class="o" cx="417.73" cy="1439.2" r="4.4"/>
<circle class="o" cx="417.73" cy="1432.15" r="4.4"/>
<circle class="o" cx="417.73" cy="1418.04" r="4.4"/>
<circle class="o" cx="417.73" cy="1410.99" r="4.4"/>
<circle class="o" cx="417.73" cy="1403.93" r="4.4"/>
<circle class="o" cx="417.73" cy="1396.88" r="4.4"/>
<circle class="o" cx="417.73" cy="1389.83" r="4.4"/>
<circle class="o" cx="417.73" cy="1030.07" r="4.4"/>
<circle class="o" cx="417.73" cy="1023.02" r="4.4"/>
<circle class="o" cx="417.73" cy="1015.96" r="4.4"/>
<circle class="o" cx="417.73" cy="1001.86" r="4.4"/>
<path class="w" d="M438.86 1044.18V1157.04"/>
<path class="l" d="M433.58 1044.18H444.14"/>
<path class="w" d="M438.86 1347.5V1234.64"/>
<path class="l" d="M433.58 1347.5H444.14"/>
<rect class="b" fill="#4575B4" x="428.3" y="1157.04" width="21.13" height="77.59"/>
<path class="m" d="M428.3 1199.37H449.43"/>
<circle class="o" cx="438.86" cy="1446.26" r="4.4"/>
<circle class="o" cx="438.86" cy="1432.15" r="4.4"/>
<circle class="o" cx="438.86" cy="1418.04" r="4.4"/>
<circle class="o" cx="438.86" cy="1410.99" r="4.4"/>
<circle class="o" cx="438.86" cy="1403.93" r="4.4"/>
<circle class="o" cx="438.86" cy="1396.88" r="4.4"/>
<circle class="o" cx="438.86" cy="1375.72" r="4.4"/>
<circle class="o" cx="438.86" cy="1368.66" r="4.4"/>
<circle class="o" cx="438.86" cy="1361.61" r="4.4"/>
<circle class="o" cx="438.86" cy="1354.56" r="4.4"/>
<circle class="o" cx="438.86" cy="1037.13" r="4.4"/>
<circle class="o" cx="438.86" cy="1030.07" r="4.4"/>
<circle class="o" cx="438.86" cy="1001.86" r="4.4"/>
<circle class="o" cx="438.86" cy="994.8" r="4.4"/>
<circle class="o" cx="438.86" cy="980.69" r="4.4"/>
<path class="w" d="M459.99 1044.18V1149.99"/>
<path class="l" d="M454.71 1044.18H465.27"/>
<path class="w" d="M459.99 1326.34V1220.53"/>
<path class="l" d="M454.71 1326.34H465.27"/>
<rect class="b" fill="#4575B4" x="449.43" y="1149.99" width="21.13" height="70.54"/>
<path class="m" d="M449.43 1185.26H470.56"/>
<circle class="o" cx="459.99" cy="1354.56" r="4.4"/>
<circle class="o" cx="459.99" cy="1347.5" r="4.4"/>
<circle class="o" cx="459.99" cy="1340.45" r="4.4"/>
<circle class="o" cx="459.99" cy="1333.39" r="4.4"/>
<circle class="o" cx="459.99" cy="1037.13" r="4.4"/>
<circle class="o" cx="459.99" cy="1030.07" r="4.4"/>
<circle class="o" cx="459.99" cy="1008.91" r="4.4"/>
<circle class="o" cx="459.99" cy="1001.86" r="4.4"/>
<circle class="o" cx="459.99" cy="994.8" r="4.4"/>
<circle class="o" cx="459.99" cy="966.59" r="4.4"/>
<circle class="o" cx="459.99" cy="945.42" r="4.4"/>
</g>
<rect class="l" stroke-linejoin="round" x="151.8" y="843.5" width="341.7" height="647.8"/>
<path class="l" d="M151.8 1432.15H133.4"/>
<text class="y" transform="translate(115 1444.25) scale(1 1.04)">2020</text>
<path class="l" d="M151.8 1291.07H133.4"/>
<text class="y" transform="translate(115 1303.17) scale(1 1.04)">2040</text>
<path class="l" d="M151.8 1149.99H133.4"/>
<text class="y" transform="translate(115 1162.09) scale(1 1.04)">2060</text>
<path class="l" d="M151.8 1008.91H133.4"/>
<text class="y" transform="translate(115 1021.01) scale(1 1.04)">2080</text>
<path class="l" d="M151.8 867.83H133.4"/>
<text class="y" transform="translate(115 879.93) scale(1 1.04)">2100</text>
<path class="l" d="M185.3 1491.3V1509.7"/>
<text class="x" transform="translate(193.2 1528.2) rotate(-90) scale(1 1.04)">Detrended</text>
<path class="l" d="M206.43 1491.3V1509.7"/>
<text class="x" transform="translate(214.33 1528.2) rotate(-90) scale(1 1.04)">RCP85 Q25</text>
<path class="l" d="M227.56 1491.3V1509.7"/>
<text class="x" transform="translate(235.46 1528.2) rotate(-90) scale(1 1.04)">RCP85 Q50</text>
<path class="l" d="M248.69 1491.3V1509.7"/>
<text class="x" transform="translate(256.59 1528.2) rotate(-90) scale(1 1.04)">RCP85 Q75</text>
<path class="l" d="M290.95 1491.3V1509.7"/>
<text class="x" transform="translate(298.85 1528.2) rotate(-90) scale(1 1.04)">Detrended</text>
<path class="l" d="M312.08 1491.3V1509.7"/>
<text class="x" transform="translate(319.98 1528.2) rotate(-90) scale(1 1.04)">RCP85 Q25</text>
<path class="l" d="M333.21 1491.3V1509.7"/>
<text class="x" transform="translate(341.11 1528.2) rotate(-90) scale(1 1.04)">RCP85 Q50</text>
<path class="l" d="M354.34 1491.3V1509.7"/>
<text class="x" transform="translate(362.24 1528.2) rotate(-90) scale(1 1.04)">RCP85 Q75</text>
<path class="l" d="M396.6 1491.3V1509.7"/>
<text class="x" transform="translate(404.5 1528.2) rotate(-90) scale(1 1.04)">Detrended</text>
<path class="l" d="M417.73 1491.3V1509.7"/>
<text class="x" transform="translate(425.63 1528.2) rotate(-90) scale(1 1.04)">RCP85 Q25</text>
<path class="l" d="M438.86 1491.3V1509.7"/>
<text class="x" transform="translate(446.76 1528.2) rotate(-90) scale(1 1.04)">RCP85 Q50</text>
<path class="l" d="M459.99 1491.3V1509.7"/>
<text class="x" transform="translate(467.89 1528.2) rotate(-90) scale(1 1.04)">RCP85 Q75</text>
</g>
<g>
<text class="t" x="737.75" y="820.7">Marsh Creek</text>
<g clip-path="url(#c5)">
<text class="s" transform="translate(600.4 1481.02) scale(0.98 1.15)">~</text>
<circle class="o" cx="600.7" cy="1410.99" r="4.4"/>
<circle class="o" cx="600.7" cy="1403.93" r="4.4"/>
<circle class="o" cx="600.7" cy="1396.88" r="4.4"/>
<circle class="o" cx="600.7" cy="1382.77" r="4.4"/>
<circle class="o" cx="600.7" cy="1326.34" r="4.4"/>
<circle class="o" cx="600.7" cy="1284.02" r="4.4"/>
<circle class="o" cx="600.7" cy="1269.91" r="4.4"/>
<circle class="o" cx="600.7" cy="1227.58" r="4.4"/>
<circle class="o" cx="600.7" cy="1213.48" r="4.4"/>
<circle class="o" cx="600.7" cy="1142.94" r="4.4"/>
<circle class="o" cx="600.7" cy="1100.61" r="4.4"/>
<circle class="o" cx="600.7" cy="1093.56" r="4.4"/>
<circle class="o" cx="600.7" cy="1086.5" r="4.4"/>
<circle class="o" cx="600.7" cy="1079.45" r="4.4"/>
<circle class="o" cx="600.7" cy="1037.13" r="4.4"/>
<circle class="o" cx="600.7" cy="1023.02" r="4.4"/>
<circle class="o" cx="600.7" cy="1008.91" r="4.4"/>
<circle class="o" cx="600.7" cy="1001.86" r="4.4"/>
<circle class="o" cx="600.7" cy="980.69" r="4.4"/>
<circle class="o" cx="600.7" cy="973.64" r="4.4"/>
<circle class="o" cx="600.7" cy="966.59" r="4.4"/>
<path class="w" d="M621.83 1015.96V1128.83"/>
<path class="l" d="M616.55 1015.96H627.11"/>
<path class="w" d="M621.83 1319.29V1206.42"/>
<path class="l" d="M616.55 1319.29H627.11"/>
<rect class="b" fill="#D73027" x="611.26" y="1128.83" width="21.13" height="77.59"/>
<path class="m" d="M611.26 1171.15H632.39"/>
<circle class="o" cx="621.83" cy="1446.26" r="4.4"/>
<circle class="o" cx="621.83" cy="1432.15" r="4.4"/>
<circle class="o" cx="621.83" cy="1418.04" r="4.4"/>
<circle class="o" cx="621.83" cy="1403.93" r="4.4"/>
<circle class="o" cx="621.83" cy="1396.88" r="4.4"/>
<circle class="o" cx="621.83" cy="1375.72" r="4.4"/>
<circle class="o" cx="621.83" cy="1361.61" r="4.4"/>
<circle class="o" cx="621.83" cy="1347.5" r="4.4"/>
<circle class="o" cx="621.83" cy="1340.45" r="4.4"/>
<circle class="o" cx="621.83" cy="1333.39" r="4.4"/>
<circle class="o" cx="621.83" cy="1326.34" r="4.4"/>
<circle class="o" cx="621.83" cy="1008.91" r="4.4"/>
<circle class="o" cx="621.83" cy="1001.86" r="4.4"/>
<circle class="o" cx="621.83" cy="994.8" r="4.4"/>
<circle class="o" cx="621.83" cy="987.75" r="4.4"/>
<circle class="o" cx="621.83" cy="973.64" r="4.4"/>
<path class="w" d="M642.96 1072.4V1171.15"/>
<path class="l" d="M637.68 1072.4H648.24"/>
<path class="w" d="M642.96 1333.39V1238.16"/>
<path class="l" d="M637.68 1333.39H648.24"/>
<rect class="b" fill="#D73027" x="632.39" y="1171.15" width="21.13" height="67.01"/>
<path class="m" d="M632.39 1199.37H653.52"/>
<circle class="o" cx="642.96" cy="1425.1" r="4.4"/>
<circle class="o" cx="642.96" cy="1389.83" r="4.4"/>
<circle class="o" cx="642.96" cy="1375.72" r="4.4"/>
<circle class="o" cx="642.96" cy="1368.66" r="4.4"/>
<circle class="o" cx="642.96" cy="1361.61" r="4.4"/>
<circle class="o" cx="642.96" cy="1354.56" r="4.4"/>
<circle class="o" cx="642.96" cy="1347.5" r="4.4"/>
<circle class="o" cx="642.96" cy="1340.45" r="4.4"/>
<circle class="o" cx="642.96" cy="1065.34" r="4.4"/>
<circle class="o" cx="642.96" cy="1058.29" r="4.4"/>
<circle class="o" cx="642.96" cy="1051.23" r="4.4"/>
<circle class="o" cx="642.96" cy="1044.18" r="4.4"/>
<circle class="o" cx="642.96" cy="1037.13" r="4.4"/>
<circle class="o" cx="642.96" cy="1030.07" r="4.4"/>
<circle class="o" cx="642.96" cy="1023.02" r="4.4"/>
<circle class="o" cx="642.96" cy="1015.96" r="4.4"/>
<circle class="o" cx="642.96" cy="1008.91" r="4.4"/>
<circle class="o" cx="642.96" cy="987.75" r="4.4"/>
<circle class="o" cx="642.96" cy="959.53" r="4.4"/>
<circle class="o" cx="642.96" cy="952.48" r="4.4"/>
<path class="w" d="M664.09 1100.61V1192.31"/>
<path class="l" d="M658.81 1100.61H669.37"/>
<path class="w" d="M664.09 1347.5V1255.8"/>
<path class="l" d="M658.81 1347.5H669.37"/>
<rect class="b" fill="#D73027" x="653.52" y="1192.31" width="21.13" height="63.49"/>
<path class="m" d="M653.52 1220.53H674.65"/>
<circle class="o" cx="664.09" cy="1446.26" r="4.4"/>
<circle class="o" cx="664.09" cy="1425.1" r="4.4"/>
<circle class="o" cx="664.09" cy="1410.99" r="4.4"/>
<circle class="o" cx="664.09" cy="1382.77" r="4.4"/>
<circle class="o" cx="664.09" cy="1361.61" r="4.4"/>
<circle class="o" cx="664.09" cy="1354.56" r="4.4"/>
<circle class="o" cx="664.09" cy="1093.56" r="4.4"/>
<circle class="o" cx="664.09" cy="1086.5" r="4.4"/>
<circle class="o" cx="664.09" cy="1079.45" r="4.4"/>
<circle class="o" cx="664.09" cy="1072.4" r="4.4"/>
<circle class="o" cx="664.09" cy="1065.34" r="4.4"/>
<circle class="o" cx="664.09" cy="1058.29" r="4.4"/>
<circle class="o" cx="664.09" cy="1051.23" r="4.4"/>
<circle class="o" cx="664.09" cy="1037.13" r="4.4"/>
<circle class="o" cx="664.09" cy="1015.96" r="4.4"/>
<text class="s" transform="translate(706.05 1481.02) scale(0.98 1.15)">~</text>
<circle class="o" cx="706.35" cy="1410.99" r="4.4"/>
<circle class="o" cx="706.35" cy="1403.93" r="4.4"/>
<circle class="o" cx="706.35" cy="1382.77" r="4.4"/>
<circle class="o" cx="706.35" cy="1354.56" r="4.4"/>
<circle class="o" cx="706.35" cy="1312.23" r="4.4"/>
<circle class="o" cx="706.35" cy="1269.91" r="4.4"/>
<circle class="o" cx="706.35" cy="1262.85" r="4.4"/>
<circle class="o" cx="706.35" cy="1227.58" r="4.4"/>
<circle class="o" cx="706.35" cy="1213.48" r="4.4"/>
<circle class="o" cx="706.35" cy="1164.1" r="4.4"/>
<circle class="o" cx="706.35" cy="1086.5" r="4.4"/>
<circle class="o" cx="706.35" cy="1037.13" r="4.4"/>
<circle class="o" cx="706.35" cy="1001.86" r="4.4"/>
<circle class="o" cx="706.35" cy="987.75" r="4.4"/>
<circle class="o" cx="706.35" cy="973.64" r="4.4"/>
<circle class="o" cx="706.35" cy="966.59" r="4.4"/>
<path class="w" d="M727.48 1086.5V1171.15"/>
<path class="l" d="M722.2 1086.5H732.76"/>
<path class="w" d="M727.48 1326.34V1234.64"/>
<path class="l" d="M722.2 1326.34H732.76"/>
<rect class="b" fill="#FEE090" x="716.91" y="1171.15" width="21.13" height="63.49"/>
<path class="m" d="M716.91 1206.42H738.04"/>
<circle class="o" cx="727.48" cy="1446.26" r="4.4"/>
<circle class="o" cx="727.48" cy="1410.99" r="4.4"/>
<circle class="o" cx="727.48" cy="1403.93" r="4.4"/>
<circle class="o" cx="727.48" cy="1396.88" r="4.4"/>
<circle class="o" cx="727.48" cy="1389.83" r="4.4"/>
<circle class="o" cx="727.48" cy="1375.72" r="4.4"/>
<circle class="o" cx="727.48" cy="1361.61" r="4.4"/>
<circle class="o" cx="727.48" cy="1347.5" r="4.4"/>
<circle class="o" cx="727.48" cy="1340.45" r="4.4"/>
<circle class="o" cx="727.48" cy="1333.39" r="4.4"/>
<circle class="o" cx="727.48" cy="1037.13" r="4.4"/>
<path class="w" d="M748.61 1128.83V1213.48"/>
<path class="l" d="M743.33 1128.83H753.89"/>
<path class="w" d="M748.61 1354.56V1269.91"/>
<path class="l" d="M743.33 1354.56H753.89"/>
<rect class="b" fill="#FEE090" x="738.04" y="1213.48" width="21.13" height="56.43"/>
<path class="m" d="M738.04 1241.69H759.17"/>
<circle class="o" cx="748.61" cy="1432.15" r="4.4"/>
<circle class="o" cx="748.61" cy="1425.1" r="4.4"/>
<circle class="o" cx="748.61" cy="1418.04" r="4.4"/>
<circle class="o" cx="748.61" cy="1403.93" r="4.4"/>
<circle class="o" cx="748.61" cy="1396.88" r="4.4"/>
<circle class="o" cx="748.61" cy="1375.72" r="4.4"/>
<circle class="o" cx="748.61" cy="1368.66" r="4.4"/>
<circle class="o" cx="748.61" cy="1361.61" r="4.4"/>
<path class="w" d="M769.74 1171.15V1241.69"/>
<path class="l" d="M764.46 1171.15H775.02"/>
<path class="w" d="M769.74 1361.61V1291.07"/>
<path class="l" d="M764.46 1361.61H775.02"/>
<rect class="b" fill="#FEE090" x="759.17" y="1241.69" width="21.13" height="49.38"/>
<path class="m" d="M759.17 1262.85H780.3"/>
<circle class="o" cx="769.74" cy="1446.26" r="4.4"/>
<circle class="o" cx="769.74" cy="1432.15" r="4.4"/>
<circle class="o" cx="769.74" cy="1425.1" r="4.4"/>
<circle class="o" cx="769.74" cy="1410.99" r="4.4"/>
<circle class="o" cx="769.74" cy="1396.88" r="4.4"/>
<circle class="o" cx="769.74" cy="1382.77" r="4.4"/>
<circle class="o" cx="769.74" cy="1368.66" r="4.4"/>
<circle class="o" cx="769.74" cy="1164.1" r="4.4"/>
<circle class="o" cx="769.74" cy="1142.94" r="4.4"/>
<text class="s" transform="translate(811.7 1481.02) scale(0.98 1.15)">~</text>
<circle class="o" cx="812" cy="1432.15" r="4.4"/>
<circle class="o" cx="812" cy="1396.88" r="4.4"/>
<circle class="o" cx="812" cy="1312.23" r="4.4"/>
<circle class="o" cx="812" cy="1276.96" r="4.4"/>
<circle class="o" cx="812" cy="1269.91" r="4.4"/>
<circle class="o" cx="812" cy="1213.48" r="4.4"/>
<circle class="o" cx="812" cy="1206.42" r="4.4"/>
<circle class="o" cx="812" cy="1171.15" r="4.4"/>
<circle class="o" cx="812" cy="1157.04" r="4.4"/>
<circle class="o" cx="812" cy="1142.94" r="4.4"/>
<circle class="o" cx="812" cy="1128.83" r="4.4"/>
<circle class="o" cx="812" cy="1121.77" r="4.4"/>
<circle class="o" cx="812" cy="1107.67" r="4.4"/>
<circle class="o" cx="812" cy="1093.56" r="4.4"/>
<circle class="o" cx="812" cy="1079.45" r="4.4"/>
<circle class="o" cx="812" cy="1023.02" r="4.4"/>
<circle class="o" cx="812" cy="1001.86" r="4.4"/>
<circle class="o" cx="812" cy="994.8" r="4.4"/>
<circle class="o" cx="812" cy="973.64" r="4.4"/>
<path class="w" d="M833.13 945.42V1100.61"/>
<path class="l" d="M827.85 945.42H838.41"/>
<path class="w" d="M833.13 1361.61V1206.42"/>
<path class="l" d="M827.85 1361.61H838.41"/>
<rect class="b" fill="#4575B4" x="822.56" y="1100.61" width="21.13" height="105.81"/>
<path class="m" d="M822.56 1164.1H843.69"/>
<circle class="o" cx="833.13" cy="1446.26" r="4.4"/>
<circle class="o" cx="833.13" cy="1439.2" r="4.4"/>
<circle class="o" cx="833.13" cy="1425.1" r="4.4"/>
<circle class="o" cx="833.13" cy="1410.99" r="4.4"/>
<circle class="o" cx="833.13" cy="1396.88" r="4.4"/>
<circle class="o" cx="833.13" cy="1389.83" r="4.4"/>
<circle class="o" cx="833.13" cy="1382.77" r="4.4"/>
<circle class="o" cx="833.13" cy="1368.66" r="4.4"/>
<path class="w" d="M854.26 945.42V1072.4"/>
<path class="l" d="M848.98 945.42H859.54"/>
<path class="w" d="M854.26 1340.45V1192.31"/>
<path class="l" d="M848.98 1340.45H859.54"/>
<rect class="b" fill="#4575B4" x="843.69" y="1072.4" width="21.13" height="119.92"/>
<path class="m" d="M843.69 1142.94H864.83"/>
<circle class="o" cx="854.26" cy="1396.88" r="4.4"/>
<circle class="o" cx="854.26" cy="1375.72" r="4.4"/>
<path class="w" d="M875.39 945.42V1044.18"/>
<path class="l" d="M870.11 945.42H880.67"/>
<path class="w" d="M875.39 1326.34V1164.1"/>
<path class="l" d="M870.11 1326.34H880.67"/>
<rect class="b" fill="#4575B4" x="864.82" y="1044.18" width="21.13" height="119.92"/>
<path class="m" d="M864.82 1107.67H885.95"/>
</g>
<rect class="l" stroke-linejoin="round" x="566.9" y="843.5" width="341.7" height="647.8"/>
<path class="l" d="M600.7 1491.3V1509.7"/>
<text class="x" transform="translate(608.6 1528.2) rotate(-90) scale(1 1.04)">Detrended</text>
<path class="l" d="M621.83 1491.3V1509.7"/>
<text class="x" transform="translate(629.73 1528.2) rotate(-90) scale(1 1.04)">RCP85 Q25</text>
<path class="l" d="M642.96 1491.3V1509.7"/>
<text class="x" transform="translate(650.86 1528.2) rotate(-90) scale(1 1.04)">RCP85 Q50</text>
<path class="l" d="M664.09 1491.3V1509.7"/>
<text class="x" transform="translate(671.99 1528.2) rotate(-90) scale(1 1.04)">RCP85 Q75</text>
<path class="l" d="M706.35 1491.3V1509.7"/>
<text class="x" transform="translate(714.25 1528.2) rotate(-90) scale(1 1.04)">Detrended</text>
<path class="l" d="M727.48 1491.3V1509.7"/>
<text class="x" transform="translate(735.38 1528.2) rotate(-90) scale(1 1.04)">RCP85 Q25</text>
<path class="l" d="M748.61 1491.3V1509.7"/>
<text class="x" transform="translate(756.51 1528.2) rotate(-90) scale(1 1.04)">RCP85 Q50</text>
<path class="l" d="M769.74 1491.3V1509.7"/>
<text class="x" transform="translate(777.64 1528.2) rotate(-90) scale(1 1.04)">RCP85 Q75</text>
<path class="l" d="M812 1491.3V1509.7"/>
<text class="x" transform="translate(819.9 1528.2) rotate(-90) scale(1 1.04)">Detrended</text>
<path class="l" d="M833.13 1491.3V1509.7"/>
<text class="x" transform="translate(841.03 1528.2) rotate(-90) scale(1 1.04)">RCP85 Q25</text>
<path class="l" d="M854.26 1491.3V1509.7"/>
<text class="x" transform="translate(862.16 1528.2) rotate(-90) scale(1 1.04)">RCP85 Q50</text>
<path class="l" d="M875.39 1491.3V1509.7"/>
<text class="x" transform="translate(883.29 1528.2) rotate(-90) scale(1 1.04)">RCP85 Q75</text>
</g>
<g>
<text class="t" x="1152.85" y="820.7">Secesh River</text>
<g clip-path="url(#c6)">
<text class="s" transform="translate(1015.6 1481.02) scale(0.98 1.15)">~</text>
<circle class="o" cx="1015.9" cy="1354.56" r="4.4"/>
<circle class="o" cx="1015.9" cy="1347.5" r="4.4"/>
<circle class="o" cx="1015.9" cy="1164.1" r="4.4"/>
<circle class="o" cx="1015.9" cy="1149.99" r="4.4"/>
<circle class="o" cx="1015.9" cy="980.69" r="4.4"/>
<path class="w" d="M1037.03 1015.96V1107.67"/>
<path class="l" d="M1031.75 1015.96H1042.31"/>
<path class="w" d="M1037.03 1284.02V1178.21"/>
<path class="l" d="M1031.75 1284.02H1042.31"/>
<rect class="b" fill="#D73027" x="1026.46" y="1107.67" width="21.13" height="70.54"/>
<path class="m" d="M1026.46 1142.94H1047.6"/>
<circle class="o" cx="1037.03" cy="1396.88" r="4.4"/>
<circle class="o" cx="1037.03" cy="1305.18" r="4.4"/>
<circle class="o" cx="1037.03" cy="1291.07" r="4.4"/>
<circle class="o" cx="1037.03" cy="994.8" r="4.4"/>
<circle class="o" cx="1037.03" cy="987.75" r="4.4"/>
<circle class="o" cx="1037.03" cy="980.69" r="4.4"/>
<circle class="o" cx="1037.03" cy="966.59" r="4.4"/>
<circle class="o" cx="1037.03" cy="945.42" r="4.4"/>
<path class="w" d="M1058.16 1058.29V1149.99"/>
<path class="l" d="M1052.88 1058.29H1063.44"/>
<path class="w" d="M1058.16 1305.18V1213.48"/>
<path class="l" d="M1052.88 1305.18H1063.44"/>
<rect class="b" fill="#D73027" x="1047.6" y="1149.99" width="21.13" height="63.49"/>
<path class="m" d="M1047.6 1185.26H1068.73"/>
<circle class="o" cx="1058.16" cy="1333.39" r="4.4"/>
<circle class="o" cx="1058.16" cy="1312.23" r="4.4"/>
<circle class="o" cx="1058.16" cy="1051.23" r="4.4"/>
<circle class="o" cx="1058.16" cy="1044.18" r="4.4"/>
<circle class="o" cx="1058.16" cy="1037.13" r="4.4"/>
<circle class="o" cx="1058.16" cy="1023.02" r="4.4"/>
<circle class="o" cx="1058.16" cy="1015.96" r="4.4"/>
<circle class="o" cx="1058.16" cy="1008.91" r="4.4"/>
<circle class="o" cx="1058.16" cy="994.8" r="4.4"/>
<circle class="o" cx="1058.16" cy="987.75" r="4.4"/>
<circle class="o" cx="1058.16" cy="980.69" r="4.4"/>
<circle class="o" cx="1058.16" cy="966.59" r="4.4"/>
<path class="w" d="M1079.29 1107.67V1178.21"/>
<path class="l" d="M1074.01 1107.67H1084.57"/>
<path class="w" d="M1079.29 1298.12V1227.58"/>
<path class="l" d="M1074.01 1298.12H1084.57"/>
<rect class="b" fill="#D73027" x="1068.72" y="1178.21" width="21.13" height="49.38"/>
<path class="m" d="M1068.72 1199.37H1089.86"/>
<circle class="o" cx="1079.29" cy="1333.39" r="4.4"/>
<circle class="o" cx="1079.29" cy="1326.34" r="4.4"/>
<circle class="o" cx="1079.29" cy="1319.29" r="4.4"/>
<circle class="o" cx="1079.29" cy="1312.23" r="4.4"/>
<circle class="o" cx="1079.29" cy="1305.18" r="4.4"/>
<circle class="o" cx="1079.29" cy="1093.56" r="4.4"/>
<circle class="o" cx="1079.29" cy="1086.5" r="4.4"/>
<circle class="o" cx="1079.29" cy="1079.45" r="4.4"/>
<circle class="o" cx="1079.29" cy="1072.4" r="4.4"/>
<circle class="o" cx="1079.29" cy="1065.34" r="4.4"/>
<circle class="o" cx="1079.29" cy="1051.23" r="4.4"/>
<circle class="o" cx="1079.29" cy="1044.18" r="4.4"/>
<circle class="o" cx="1079.29" cy="1030.07" r="4.4"/>
<circle class="o" cx="1079.29" cy="1023.02" r="4.4"/>
<text class="s" transform="translate(1121.25 1481.02) scale(0.98 1.15)">~</text>
<circle class="o" cx="1121.55" cy="1354.56" r="4.4"/>
<circle class="o" cx="1121.55" cy="1001.86" r="4.4"/>
<circle class="o" cx="1121.55" cy="959.53" r="4.4"/>
<path class="w" d="M1142.68 1058.29V1142.94"/>
<path class="l" d="M1137.4 1058.29H1147.96"/>
<path class="w" d="M1142.68 1291.07V1206.42"/>
<path class="l" d="M1137.4 1291.07H1147.96"/>
<rect class="b" fill="#FEE090" x="1132.12" y="1142.94" width="21.13" height="63.49"/>
<path class="m" d="M1132.12 1178.21H1153.25"/>
<circle class="o" cx="1142.68" cy="1312.23" r="4.4"/>
<circle class="o" cx="1142.68" cy="1305.18" r="4.4"/>
<circle class="o" cx="1142.68" cy="1044.18" r="4.4"/>
<circle class="o" cx="1142.68" cy="1030.07" r="4.4"/>
<path class="w" d="M1163.81 1121.77V1192.31"/>
<path class="l" d="M1158.53 1121.77H1169.09"/>
<path class="w" d="M1163.81 1312.23V1241.69"/>
<path class="l" d="M1158.53 1312.23H1169.09"/>
<rect class="b" fill="#FEE090" x="1153.24" y="1192.31" width="21.13" height="49.38"/>
<path class="m" d="M1153.24 1213.48H1174.38"/>
<circle class="o" cx="1163.81" cy="1389.83" r="4.4"/>
<circle class="o" cx="1163.81" cy="1354.56" r="4.4"/>
<circle class="o" cx="1163.81" cy="1333.39" r="4.4"/>
<circle class="o" cx="1163.81" cy="1326.34" r="4.4"/>
<circle class="o" cx="1163.81" cy="1319.29" r="4.4"/>
<circle class="o" cx="1163.81" cy="1114.72" r="4.4"/>
<circle class="o" cx="1163.81" cy="1107.67" r="4.4"/>
<circle class="o" cx="1163.81" cy="1100.61" r="4.4"/>
<circle class="o" cx="1163.81" cy="1072.4" r="4.4"/>
<circle class="o" cx="1163.81" cy="1051.23" r="4.4"/>
<path class="w" d="M1184.94 1142.94V1213.48"/>
<path class="l" d="M1179.66 1142.94H1190.22"/>
<path class="w" d="M1184.94 1333.39V1262.85"/>
<path class="l" d="M1179.66 1333.39H1190.22"/>
<rect class="b" fill="#FEE090" x="1174.38" y="1213.48" width="21.13" height="49.38"/>
<path class="m" d="M1174.38 1234.64H1195.51"/>
<circle class="o" cx="1184.94" cy="1135.88" r="4.4"/>
<circle class="o" cx="1184.94" cy="1093.56" r="4.4"/>
<text class="s" transform="translate(1226.9 1481.02) scale(0.98 1.15)">~</text>
<circle class="o" cx="1227.2" cy="1030.07" r="4.4"/>
<path class="w" d="M1248.33 945.42V1058.29"/>
<path class="l" d="M1243.05 945.42H1253.61"/>
<path class="w" d="M1248.33 1291.07V1157.04"/>
<path class="l" d="M1243.05 1291.07H1253.61"/>
<rect class="b" fill="#4575B4" x="1237.76" y="1058.29" width="21.13" height="98.76"/>
<path class="m" d="M1237.76 1107.67H1258.89"/>
<circle class="o" cx="1248.33" cy="1340.45" r="4.4"/>
<circle class="o" cx="1248.33" cy="1319.29" r="4.4"/>
<path class="w" d="M1269.46 945.42V1051.23"/>
<path class="l" d="M1264.18 945.42H1274.74"/>
<path class="w" d="M1269.46 1276.96V1149.99"/>
<path class="l" d="M1264.18 1276.96H1274.74"/>
<rect class="b" fill="#4575B4" x="1258.89" y="1051.23" width="21.13" height="98.76"/>
<path class="m" d="M1258.89 1107.67H1280.03"/>
<path class="w" d="M1290.59 945.42V1044.18"/>
<path class="l" d="M1285.31 945.42H1295.87"/>
<path class="w" d="M1290.59 1255.8V1132.36"/>
<path class="l" d="M1285.31 1255.8H1295.87"/>
<rect class="b" fill="#4575B4" x="1280.02" y="1044.18" width="21.13" height="88.17"/>
<path class="m" d="M1280.02 1093.56H1301.15"/>
</g>
<rect class="l" stroke-linejoin="round" x="982" y="843.5" width="341.7" height="647.8"/>
<path class="l" d="M1015.9 1491.3V1509.7"/>
<text class="x" transform="translate(1023.8 1528.2) rotate(-90) scale(1 1.04)">Detrended</text>
<path class="l" d="M1037.03 1491.3V1509.7"/>
<text class="x" transform="translate(1044.93 1528.2) rotate(-90) scale(1 1.04)">RCP85 Q25</text>
<path class="l" d="M1058.16 1491.3V1509.7"/>
<text class="x" transform="translate(1066.06 1528.2) rotate(-90) scale(1 1.04)">RCP85 Q50</text>
<path class="l" d="M1079.29 1491.3V1509.7"/>
<text class="x" transform="translate(1087.19 1528.2) rotate(-90) scale(1 1.04)">RCP85 Q75</text>
<path class="l" d="M1121.55 1491.3V1509.7"/>
<text class="x" transform="translate(1129.45 1528.2) rotate(-90) scale(1 1.04)">Detrended</text>
<path class="l" d="M1142.68 1491.3V1509.7"/>
<text class="x" transform="translate(1150.58 1528.2) rotate(-90) scale(1 1.04)">RCP85 Q25</text>
<path class="l" d="M1163.81 1491.3V1509.7"/>
<text class="x" transform="translate(1171.71 1528.2) rotate(-90) scale(1 1.04)">RCP85 Q50</text>
<path class="l" d="M1184.94 1491.3V1509.7"/>
<text class="x" transform="translate(1192.84 1528.2) rotate(-90) scale(1 1.04)">RCP85 Q75</text>
<path class="l" d="M1227.2 1491.3V1509.7"/>
<text class="x" transform="translate(1235.1 1528.2) rotate(-90) scale(1 1.04)">Detrended</text>
<path class="l" d="M1248.33 1491.3V1509.7"/>
<text class="x" transform="translate(1256.23 1528.2) rotate(-90) scale(1 1.04)">RCP85 Q25</text>
<path class="l" d="M1269.46 1491.3V1509.7"/>
<text class="x" transform="translate(1277.36 1528.2) rotate(-90) scale(1 1.04)">RCP85 Q50</text>
<path class="l" d="M1290.59 1491.3V1509.7"/>
<text class="x" transform="translate(1298.49 1528.2) rotate(-90) scale(1 1.04)">RCP85 Q75</text>
</g>
<g>
<text class="t" x="1568.15" y="820.7">Bear Valley Creek</text>
<g clip-path="url(#c7)">
<text class="s" transform="translate(1430.9 1481.02) scale(0.98 1.15)">~</text>
<circle class="o" cx="1431.2" cy="1227.58" r="4.4"/>
<circle class="o" cx="1431.2" cy="1001.86" r="4.4"/>
<circle class="o" cx="1431.2" cy="966.59" r="4.4"/>
<path class="w" d="M1452.33 1023.02V1114.72"/>
<path class="l" d="M1447.05 1023.02H1457.61"/>
<path class="w" d="M1452.33 1291.07V1185.26"/>
<path class="l" d="M1447.05 1291.07H1457.61"/>
<rect class="b" fill="#D73027" x="1441.77" y="1114.72" width="21.13" height="70.54"/>
<path class="m" d="M1441.77 1149.99H1462.9"/>
<circle class="o" cx="1452.33" cy="1396.88" r="4.4"/>
<circle class="o" cx="1452.33" cy="1305.18" r="4.4"/>
<circle class="o" cx="1452.33" cy="1298.12" r="4.4"/>
<circle class="o" cx="1452.33" cy="1001.86" r="4.4"/>
<circle class="o" cx="1452.33" cy="966.59" r="4.4"/>
<path class="w" d="M1473.46 1086.5V1171.15"/>
<path class="l" d="M1468.18 1086.5H1478.74"/>
<path class="w" d="M1473.46 1312.23V1227.58"/>
<path class="l" d="M1468.18 1312.23H1478.74"/>
<rect class="b" fill="#D73027" x="1462.89" y="1171.15" width="21.13" height="56.43"/>
<path class="m" d="M1462.89 1199.37H1484.03"/>
<circle class="o" cx="1473.46" cy="1333.39" r="4.4"/>
<circle class="o" cx="1473.46" cy="1319.29" r="4.4"/>
<circle class="o" cx="1473.46" cy="1079.45" r="4.4"/>
<circle class="o" cx="1473.46" cy="1072.4" r="4.4"/>
<circle class="o" cx="1473.46" cy="1065.34" r="4.4"/>
<circle class="o" cx="1473.46" cy="1058.29" r="4.4"/>
<circle class="o" cx="1473.46" cy="1051.23" r="4.4"/>
<circle class="o" cx="1473.46" cy="1044.18" r="4.4"/>
<circle class="o" cx="1473.46" cy="1037.13" r="4.4"/>
<path class="w" d="M1494.59 1114.72V1199.37"/>
<path class="l" d="M1489.31 1114.72H1499.87"/>
<path class="w" d="M1494.59 1340.45V1255.8"/>
<path class="l" d="M1489.31 1340.45H1499.87"/>
<rect class="b" fill="#D73027" x="1484.03" y="1199.37" width="21.13" height="56.43"/>
<path class="m" d="M1484.03 1227.58H1505.16"/>
<circle class="o" cx="1494.59" cy="1375.72" r="4.4"/>
<circle class="o" cx="1494.59" cy="1107.67" r="4.4"/>
<circle class="o" cx="1494.59" cy="1100.61" r="4.4"/>
<circle class="o" cx="1494.59" cy="1093.56" r="4.4"/>
<circle class="o" cx="1494.59" cy="1086.5" r="4.4"/>
<text class="s" transform="translate(1536.55 1481.02) scale(0.98 1.15)">~</text>
<circle class="o" cx="1536.85" cy="1001.86" r="4.4"/>
<path class="w" d="M1557.98 1037.13V1128.83"/>
<path class="l" d="M1552.7 1037.13H1563.26"/>
<path class="w" d="M1557.98 1284.02V1192.31"/>
<path class="l" d="M1552.7 1284.02H1563.26"/>
<rect class="b" fill="#FEE090" x="1547.41" y="1128.83" width="21.13" height="63.49"/>
<path class="m" d="M1547.41 1164.1H1568.55"/>
<circle class="o" cx="1557.98" cy="1368.66" r="4.4"/>
<circle class="o" cx="1557.98" cy="1312.23" r="4.4"/>
<circle class="o" cx="1557.98" cy="1291.07" r="4.4"/>
<path class="w" d="M1579.11 1107.67V1185.26"/>
<path class="l" d="M1573.83 1107.67H1584.39"/>
<path class="w" d="M1579.11 1319.29V1241.69"/>
<path class="l" d="M1573.83 1319.29H1584.39"/>
<rect class="b" fill="#FEE090" x="1568.55" y="1185.26" width="21.13" height="56.43"/>
<path class="m" d="M1568.55 1213.48H1589.68"/>
<circle class="o" cx="1579.11" cy="1333.39" r="4.4"/>
<circle class="o" cx="1579.11" cy="1093.56" r="4.4"/>
<circle class="o" cx="1579.11" cy="1086.5" r="4.4"/>
<path class="w" d="M1600.24 1142.94V1213.48"/>
<path class="l" d="M1594.96 1142.94H1605.52"/>
<path class="w" d="M1600.24 1333.39V1262.85"/>
<path class="l" d="M1594.96 1333.39H1605.52"/>
<rect class="b" fill="#FEE090" x="1589.67" y="1213.48" width="21.13" height="49.38"/>
<path class="m" d="M1589.67 1241.69H1610.81"/>
<circle class="o" cx="1600.24" cy="1340.45" r="4.4"/>
<circle class="o" cx="1600.24" cy="1128.83" r="4.4"/>
<text class="s" transform="translate(1642.2 1481.02) scale(0.98 1.15)">~</text>
<path class="w" d="M1663.63 945.42V1051.23"/>
<path class="l" d="M1658.35 945.42H1668.91"/>
<path class="w" d="M1663.63 1312.23V1157.04"/>
<path class="l" d="M1658.35 1312.23H1668.91"/>
<rect class="b" fill="#4575B4" x="1653.07" y="1051.23" width="21.13" height="105.81"/>
<path class="m" d="M1653.07 1100.61H1674.2"/>
<path class="w" d="M1684.76 945.42V1065.34"/>
<path class="l" d="M1679.48 945.42H1690.04"/>
<path class="w" d="M1684.76 1284.02V1164.1"/>
<path class="l" d="M1679.48 1284.02H1690.04"/>
<rect class="b" fill="#4575B4" x="1674.19" y="1065.34" width="21.13" height="98.76"/>
<path class="m" d="M1674.19 1114.72H1695.33"/>
<path class="w" d="M1705.89 945.42V1065.34"/>
<path class="l" d="M1700.61 945.42H1711.17"/>
<path class="w" d="M1705.89 1269.91V1149.99"/>
<path class="l" d="M1700.61 1269.91H1711.17"/>
<rect class="b" fill="#4575B4" x="1695.33" y="1065.34" width="21.13" height="84.65"/>
<path class="m" d="M1695.33 1114.72H1716.46"/>
<circle class="o" cx="1705.89" cy="1291.07" r="4.4"/>
</g>
<rect class="b" fill="#D73027" x="1619" y="863.6" width="15.2" height="13.2"/>
<text class="g" x="1653.6" y="878.1">Model 1</text>
<rect class="b" fill="#FEE090" x="1619" y="888.9" width="15.2" height="13.2"/>
<text class="g" x="1653.6" y="903.4">Model 2</text>
<rect class="b" fill="#4575B4" x="1619" y="914.2" width="15.2" height="13.2"/>
<text class="g" x="1653.6" y="928.7">Model 3</text>
<rect class="l" stroke-linejoin="round" x="1397.3" y="843.5" width="342.3" height="647.8"/>
<path class="l" d="M1431.2 1491.3V1509.7"/>
<text class="x" transform="translate(1439.1 1528.2) rotate(-90) scale(1 1.04)">Detrended</text>
<path class="l" d="M1452.33 1491.3V1509.7"/>
<text class="x" transform="translate(1460.23 1528.2) rotate(-90) scale(1 1.04)">RCP85 Q25</text>
<path class="l" d="M1473.46 1491.3V1509.7"/>
<text class="x" transform="translate(1481.36 1528.2) rotate(-90) scale(1 1.04)">RCP85 Q50</text>
<path class="l" d="M1494.59 1491.3V1509.7"/>
<text class="x" transform="translate(1502.49 1528.2) rotate(-90) scale(1 1.04)">RCP85 Q75</text>
<path class="l" d="M1536.85 1491.3V1509.7"/>
<text class="x" transform="translate(1544.75 1528.2) rotate(-90) scale(1 1.04)">Detrended</text>
<path class="l" d="M1557.98 1491.3V1509.7"/>
<text class="x" transform="translate(1565.88 1528.2) rotate(-90) scale(1 1.04)">RCP85 Q25</text>
<path class="l" d="M1579.11 1491.3V1509.7"/>
<text class="x" transform="translate(1587.01 1528.2) rotate(-90) scale(1 1.04)">RCP85 Q50</text>
<path class="l" d="M1600.24 1491.3V1509.7"/>
<text class="x" transform="translate(1608.14 1528.2) rotate(-90) scale(1 1.04)">RCP85 Q75</text>
<path class="l" d="M1642.5 1491.3V1509.7"/>
<text class="x" transform="translate(1650.4 1528.2) rotate(-90) scale(1 1.04)">Detrended</text>
<path class="l" d="M1663.63 1491.3V1509.7"/>
<text class="x" transform="translate(1671.53 1528.2) rotate(-90) scale(1 1.04)">RCP85 Q25</text>
<path class="l" d="M1684.76 1491.3V1509.7"/>
<text class="x" transform="translate(1692.66 1528.2) rotate(-90) scale(1 1.04)">RCP85 Q50</text>
<path class="l" d="M1705.89 1491.3V1509.7"/>
<text class="x" transform="translate(1713.79 1528.2) rotate(-90) scale(1 1.04)">RCP85 Q75</text>
</g>
<text transform="translate(34.4 771.6) rotate(-90) scale(1 1.035)" font-size="46.6" text-anchor="middle">Year passed QET50</text>
<text x="945.6" y="1703.7" font-size="41.85" text-anchor="middle">Climate scenario</text>
</svg></body></html>
